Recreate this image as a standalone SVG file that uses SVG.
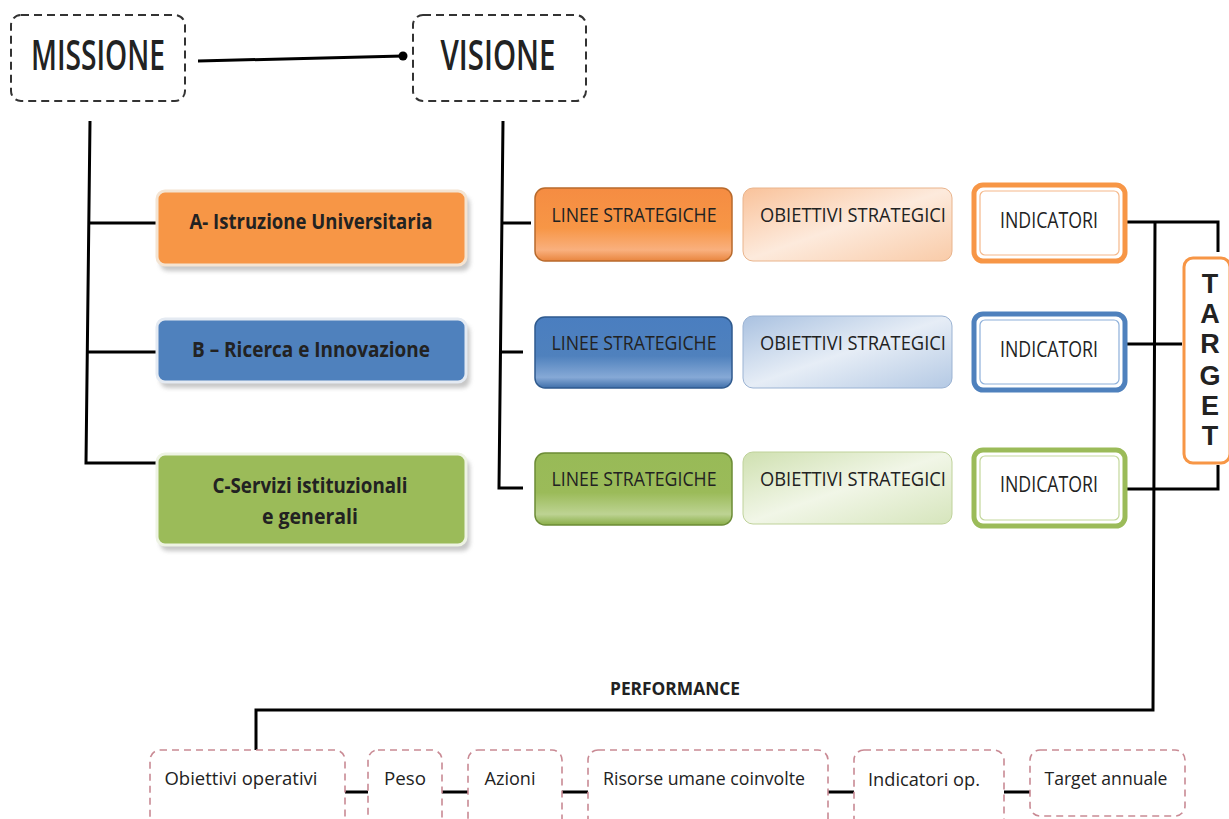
<svg xmlns="http://www.w3.org/2000/svg" width="1229" height="819" viewBox="0 0 1229 819">
<defs>
<style>
.t{font-family:"Open Sans","Liberation Sans",sans-serif;fill:#222}
.b{font-weight:bold}
.dash{fill:#fff;stroke:#333;stroke-width:2;stroke-dasharray:8 5}
.pdash{fill:#fff;stroke:#c98a94;stroke-width:1.6;stroke-dasharray:7 5}
.ln{fill:none;stroke:#000;stroke-width:3}
.shadow{fill:#9a9a9a;opacity:0.55}
</style>
<linearGradient id="gO" x1="0" y1="0" x2="0" y2="1"><stop offset="0" stop-color="#F58C42"/><stop offset="0.55" stop-color="#F79646"/><stop offset="0.85" stop-color="#F9B07E"/><stop offset="1" stop-color="#E9853E"/></linearGradient>
<linearGradient id="gB" x1="0" y1="0" x2="0" y2="1"><stop offset="0" stop-color="#4A7EC0"/><stop offset="0.55" stop-color="#4F81BD"/><stop offset="0.85" stop-color="#86A9D6"/><stop offset="1" stop-color="#3F6FAA"/></linearGradient>
<linearGradient id="gG" x1="0" y1="0" x2="0" y2="1"><stop offset="0" stop-color="#98BA57"/><stop offset="0.55" stop-color="#9BBB59"/><stop offset="0.85" stop-color="#BDD393"/><stop offset="1" stop-color="#8AAE48"/></linearGradient>
<linearGradient id="lO" x1="0" y1="0" x2="1" y2="1"><stop offset="0" stop-color="#F9C29A"/><stop offset="0.5" stop-color="#FDEADC"/><stop offset="1" stop-color="#F9CBA8"/></linearGradient>
<linearGradient id="lB" x1="0" y1="0" x2="1" y2="1"><stop offset="0" stop-color="#A9C1E0"/><stop offset="0.5" stop-color="#E6EDF6"/><stop offset="1" stop-color="#B4C9E4"/></linearGradient>
<linearGradient id="lG" x1="0" y1="0" x2="1" y2="1"><stop offset="0" stop-color="#CFE0B0"/><stop offset="0.5" stop-color="#F1F6E7"/><stop offset="1" stop-color="#D6E5BC"/></linearGradient>
<filter id="blur" x="-10%" y="-10%" width="120%" height="130%"><feGaussianBlur stdDeviation="2"/></filter>
</defs>
<rect width="1229" height="819" fill="#fff"/>

<g id="connectors">
<path class="ln" d="M198 61 L403 56"/>
<circle cx="403" cy="56" r="4.5" fill="#000"/>
<path class="ln" d="M90 121 L86 463 L157 463 M88 223 L157 223 M87 352 L157 352"/>
<path class="ln" d="M503 121 L499 488 L523 488 M502 223 L531 223 M500 352 L523 352"/>
<path class="ln" d="M1123 222 L1218 222 L1218 252 M1155 222 L1153 710 L256 710 L256 750"/>
<path class="ln" d="M1120 344 L1182 344"/>
<path class="ln" d="M1127 489 L1218 489 L1218 465"/>
<path class="ln" stroke-width="4" d="M345 792 L368 792 M442 792 L468 792 M562 792 L588 792 M828 792 L854 792 M1004 792 L1030 792"/>
</g>

<g id="missione">
<rect class="dash" x="11" y="15" width="174" height="86" rx="10"/>
<text class="t" x="98" y="70" font-size="41" font-weight="600" text-anchor="middle" textLength="134" lengthAdjust="spacingAndGlyphs">MISSIONE</text>
</g>
<g id="visione">
<rect class="dash" x="413" y="15" width="173" height="86" rx="10"/>
<text class="t" x="498" y="70" font-size="41" font-weight="600" text-anchor="middle" textLength="115" lengthAdjust="spacingAndGlyphs">VISIONE</text>
</g>

<g id="areaA">
<rect class="shadow" x="160" y="196" width="310" height="75" rx="8" filter="url(#blur)"/>
<rect x="157" y="191" width="309" height="74" rx="8" fill="#F79646" stroke="#F4E4D2" stroke-width="3"/>
<text class="t b" x="311" y="229" font-size="21" text-anchor="middle" textLength="243" lengthAdjust="spacingAndGlyphs">A- Istruzione Universitaria</text>
</g>
<g id="areaB">
<rect class="shadow" x="160" y="324" width="310" height="64" rx="8" filter="url(#blur)"/>
<rect x="157" y="319" width="309" height="63" rx="8" fill="#4F81BD" stroke="#E4EAF2" stroke-width="3"/>
<text class="t b" x="311" y="357" font-size="21" text-anchor="middle" textLength="238" lengthAdjust="spacingAndGlyphs">B – Ricerca e Innovazione</text>
</g>
<g id="areaC">
<rect class="shadow" x="160" y="459" width="310" height="92" rx="8" filter="url(#blur)"/>
<rect x="157" y="454" width="309" height="91" rx="8" fill="#9BBB59" stroke="#EEF3E4" stroke-width="3"/>
<text class="t b" x="310" y="493" font-size="21" text-anchor="middle" textLength="195" lengthAdjust="spacingAndGlyphs">C-Servizi istituzionali</text>
<text class="t b" x="310" y="524" font-size="21" text-anchor="middle" textLength="96" lengthAdjust="spacingAndGlyphs">e generali</text>
</g>

<g id="lineeA">
<rect x="535" y="188" width="197" height="73" rx="10" fill="url(#gO)" stroke="#B86A2C" stroke-width="1.5"/>
<text class="t" x="634" y="222" font-size="20" text-anchor="middle" textLength="165" lengthAdjust="spacingAndGlyphs">LINEE STRATEGICHE</text>
</g>
<g id="lineeB">
<rect x="535" y="317" width="197" height="71" rx="10" fill="url(#gB)" stroke="#2F5A8E" stroke-width="1.5"/>
<text class="t" x="634" y="350" font-size="20" text-anchor="middle" textLength="165" lengthAdjust="spacingAndGlyphs">LINEE STRATEGICHE</text>
</g>
<g id="lineeC">
<rect x="535" y="453" width="197" height="72" rx="10" fill="url(#gG)" stroke="#6C8C36" stroke-width="1.5"/>
<text class="t" x="634" y="486" font-size="20" text-anchor="middle" textLength="165" lengthAdjust="spacingAndGlyphs">LINEE STRATEGICHE</text>
</g>

<g id="obiettiviA">
<rect x="743" y="188" width="209" height="73" rx="10" fill="url(#lO)" stroke="#E9B48C" stroke-width="1"/>
<text class="t" x="853" y="222" font-size="20" text-anchor="middle" textLength="186" lengthAdjust="spacingAndGlyphs">OBIETTIVI  STRATEGICI</text>
</g>
<g id="obiettiviB">
<rect x="743" y="316" width="209" height="72" rx="10" fill="url(#lB)" stroke="#9BB3D3" stroke-width="1"/>
<text class="t" x="853" y="350" font-size="20" text-anchor="middle" textLength="186" lengthAdjust="spacingAndGlyphs">OBIETTIVI  STRATEGICI</text>
</g>
<g id="obiettiviC">
<rect x="743" y="452" width="209" height="72" rx="10" fill="url(#lG)" stroke="#BFD29A" stroke-width="1"/>
<text class="t" x="853" y="486" font-size="20" text-anchor="middle" textLength="186" lengthAdjust="spacingAndGlyphs">OBIETTIVI  STRATEGICI</text>
</g>

<g id="indicatoriA">
<rect x="974" y="185" width="151" height="76" rx="9" fill="#fff" stroke="#F79646" stroke-width="5"/>
<rect x="980" y="191" width="139" height="64" rx="5" fill="none" stroke="#F5B88A" stroke-width="1.2"/>
<text class="t" x="1049" y="228" font-size="21" text-anchor="middle" textLength="98" lengthAdjust="spacingAndGlyphs">INDICATORI</text>
</g>
<g id="indicatoriB">
<rect x="974" y="314" width="151" height="76" rx="9" fill="#fff" stroke="#4F81BD" stroke-width="5"/>
<rect x="980" y="320" width="139" height="64" rx="5" fill="none" stroke="#8EB0DA" stroke-width="1.2"/>
<text class="t" x="1049" y="357" font-size="21" text-anchor="middle" textLength="98" lengthAdjust="spacingAndGlyphs">INDICATORI</text>
</g>
<g id="indicatoriC">
<rect x="974" y="450" width="151" height="76" rx="9" fill="#fff" stroke="#9BBB59" stroke-width="5"/>
<rect x="980" y="456" width="139" height="64" rx="5" fill="none" stroke="#C3D79B" stroke-width="1.2"/>
<text class="t" x="1049" y="492" font-size="21" text-anchor="middle" textLength="98" lengthAdjust="spacingAndGlyphs">INDICATORI</text>
</g>

<g id="target">
<rect x="1184" y="258" width="46" height="205" rx="9" fill="#fff" stroke="#F79646" stroke-width="3"/>
<g class="t b" font-size="27" text-anchor="middle" style="font-family:'Liberation Sans',sans-serif">
<text x="1210" y="293">T</text>
<text x="1210" y="323">A</text>
<text x="1210" y="353">R</text>
<text x="1210" y="385">G</text>
<text x="1210" y="415">E</text>
<text x="1210" y="445">T</text>
</g>
</g>

<text class="t b" x="675" y="695" font-size="17" text-anchor="middle" textLength="130" lengthAdjust="spacingAndGlyphs">PERFORMANCE</text>

<g id="ob-operativi">
<rect class="pdash" x="150" y="750" width="195" height="90" rx="10"/>
<text class="t" x="241" y="785" font-size="19" text-anchor="middle" textLength="153" lengthAdjust="spacingAndGlyphs">Obiettivi operativi</text>
</g>
<g id="peso">
<rect class="pdash" x="368" y="750" width="74" height="90" rx="10"/>
<text class="t" x="405" y="785" font-size="19" text-anchor="middle" textLength="42" lengthAdjust="spacingAndGlyphs">Peso</text>
</g>
<g id="azioni">
<rect class="pdash" x="468" y="750" width="94" height="90" rx="10"/>
<text class="t" x="510" y="785" font-size="19" text-anchor="middle" textLength="51" lengthAdjust="spacingAndGlyphs">Azioni</text>
</g>
<g id="risorse">
<rect class="pdash" x="588" y="750" width="240" height="90" rx="10"/>
<text class="t" x="704" y="785" font-size="19" text-anchor="middle" textLength="202" lengthAdjust="spacingAndGlyphs">Risorse umane coinvolte</text>
</g>
<g id="indicatori-op">
<rect class="pdash" x="854" y="750" width="150" height="90" rx="10"/>
<text class="t" x="924" y="786" font-size="19" text-anchor="middle" textLength="112" lengthAdjust="spacingAndGlyphs">Indicatori  op.</text>
</g>
<g id="target-annuale">
<rect class="pdash" x="1030" y="750" width="155" height="66" rx="10"/>
<text class="t" x="1106" y="785" font-size="19" text-anchor="middle" textLength="123" lengthAdjust="spacingAndGlyphs">Target annuale</text>
</g>
</svg>
